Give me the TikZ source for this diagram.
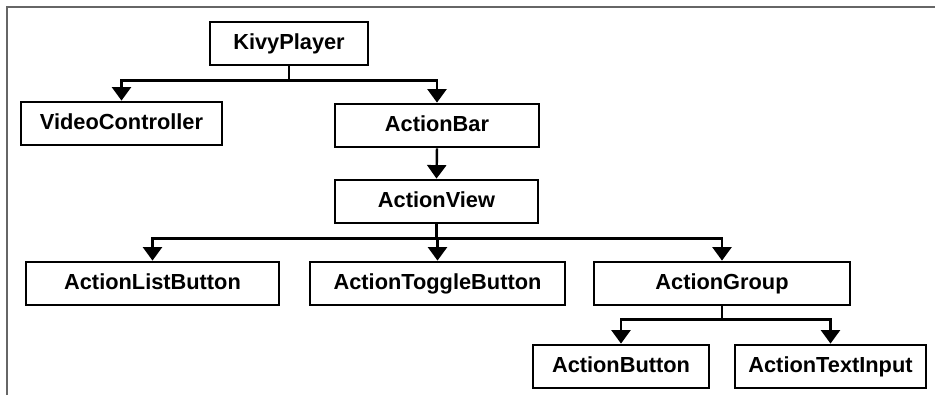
\documentclass[tikz,border=0pt]{standalone}
\usepackage{fontspec}
\setmainfont{Liberation Sans}
\usetikzlibrary{arrows.meta}

\begin{document}
\begin{tikzpicture}[font=\fontsize{12.4}{14}\selectfont\bfseries,
  box/.style={draw, line width=1.6pt, minimum height=0.86cm, inner sep=0pt,
    text height=9pt, text depth=2.6pt},
  link/.style={line width=1.4pt, -{Triangle[length=0.27cm, width=0.38cm]}}]
\useasboundingbox (0,0) rectangle (18.7,7.9);

% Frame
\draw[black!60, line width=0.8pt] (0.14,0) -- (0.14,7.76) -- (18.7,7.76);

% Top
\node[box, minimum width=3.16cm] (kivy) at (5.78, 7.03) {KivyPlayer};
\node[box, minimum width=4.02cm] (video) at (2.43, 5.43) {VideoController};
\node[box, minimum width=4.08cm] (bar) at (8.74, 5.39) {ActionBar};
\node[box, minimum width=4.06cm] (view) at (8.73, 3.87) {ActionView};

% Action items
\node[box, minimum width=5.06cm] (listbtn) at (3.05, 2.23) {ActionListButton};
\node[box, minimum width=5.10cm] (togglebtn) at (8.75, 2.23) {ActionToggleButton};
\node[box, minimum width=5.12cm] (group) at (14.44, 2.23) {ActionGroup};

% Group items
\node[box, minimum width=3.52cm] (button) at (12.42, 0.57) {ActionButton};
\node[box, minimum width=3.82cm] (textinput) at (16.61, 0.57) {ActionTextInput};

% Connectors
\draw[link] (kivy.south) -- ++(0,-0.28) -| (video.north);
\draw[link] (kivy.south) -- ++(0,-0.28) -| (bar.north);
\draw[link] (bar.south) -- (view.north);
\draw[link] (view.south) -- ++(0,-0.28) -| (listbtn.north);
\draw[link] (view.south) -- ++(0,-0.28) -| (togglebtn.north);
\draw[link] (view.south) -- ++(0,-0.28) -| (group.north);
\draw[link] (group.south) -- ++(0,-0.26) -| (button.north);
\draw[link] (group.south) -- ++(0,-0.26) -| (textinput.north);
\end{tikzpicture}
\end{document}
